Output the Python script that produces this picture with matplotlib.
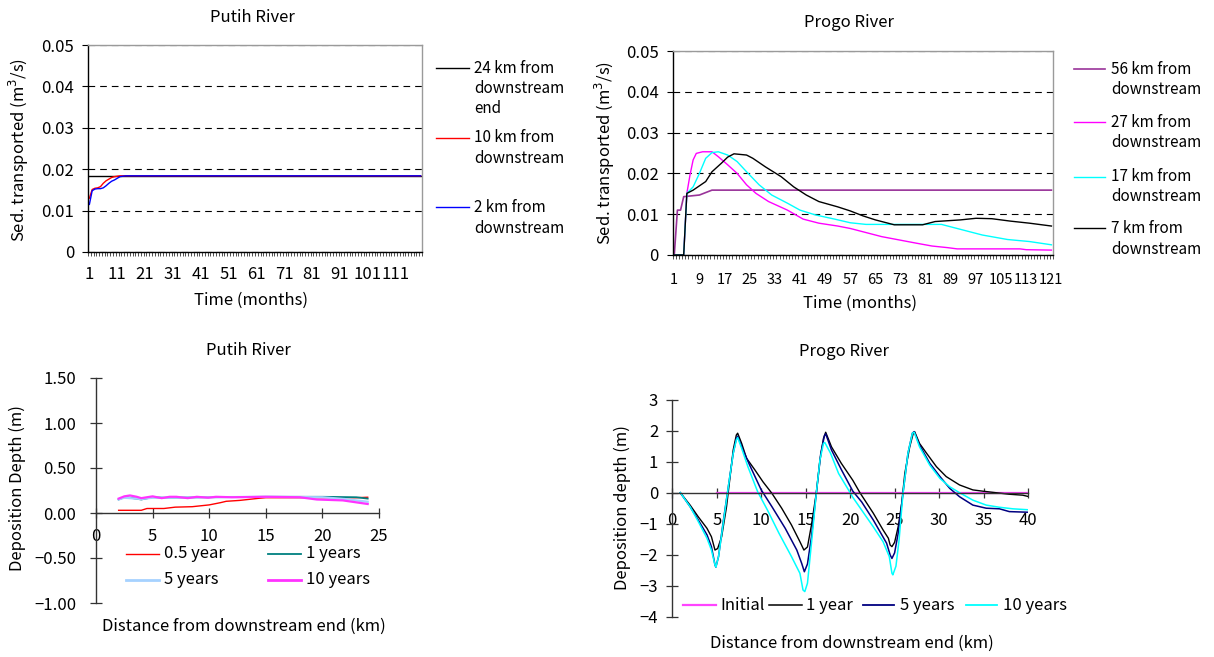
import matplotlib
matplotlib.use('Agg')
import matplotlib.pyplot as plt
from matplotlib.lines import Line2D

plt.rcParams['font.family'] = ['Noto Sans CJK JP', 'DejaVu Sans']
plt.rcParams['axes.unicode_minus'] = True
FS = 12
FS_LEG_TOP = 11

# ---------------- data ----------------
# Putih River, sediment transported (m3/s) vs month
putih_t_24 = [1, 120]
putih_q_24 = [0.0184, 0.0184]
putih_t_10 = [1, 2, 3, 4, 5, 6, 7, 8, 9, 10, 11, 12, 120]
putih_q_10 = [0.0130, 0.0151, 0.0154, 0.0155, 0.0158, 0.0166, 0.0172, 0.0176,
              0.0180, 0.0182, 0.0183, 0.0184, 0.0184]
putih_t_2 = [1, 2, 3, 4, 5, 6, 7, 8, 9, 10, 11, 12, 13, 14, 120]
putih_q_2 = [0.0115, 0.0148, 0.0152, 0.0153, 0.0153, 0.0155, 0.0160, 0.0166,
             0.0171, 0.0174, 0.0178, 0.0182, 0.0183, 0.0184, 0.0184]
putih_month_labels = ['1', '11', '21', '31', '41', '51', '61', '71', '81', '91', '101', '111']

# Progo River, sediment transported (m3/s) vs month
progo_t_56 = [1, 2, 3, 4, 9, 13, 121]
progo_q_56 = [0, 0.0110, 0.0110, 0.0143, 0.0147, 0.0159, 0.0159]
progo_t_27 = [1, 4, 5, 6, 7, 8, 10, 13, 15, 18, 21, 24, 27, 31, 37, 42, 47, 53, 57,
              67, 78, 83, 88, 91, 111, 113, 121]
progo_q_27 = [0, 0, 0.0151, 0.0196, 0.0233, 0.0249, 0.0253, 0.0253, 0.0241, 0.0221,
              0.0200, 0.0172, 0.0151, 0.0131, 0.0110, 0.0088, 0.0078, 0.0071, 0.0065,
              0.0045, 0.0029, 0.0022, 0.0018, 0.0015, 0.0015, 0.0013, 0.0012]
progo_t_17 = [1, 4, 5, 7, 9, 11, 13, 15, 18, 21, 24, 28, 32, 37, 41, 46, 52, 57, 62,
              86, 92, 99, 107, 114, 121]
progo_q_17 = [0, 0, 0.0151, 0.0167, 0.0200, 0.0237, 0.0251, 0.0253, 0.0245, 0.0229,
              0.0204, 0.0172, 0.0147, 0.0127, 0.0110, 0.0098, 0.0088, 0.0079, 0.0075,
              0.0075, 0.0063, 0.0049, 0.0038, 0.0033, 0.0025]
progo_t_7 = [1, 4, 5, 7, 11, 13, 16, 18, 20, 24, 26, 30, 35, 39, 43, 47, 53, 57, 61,
             65, 71, 80, 84, 92, 97, 102, 108, 114, 121]
progo_q_7 = [0, 0, 0.0151, 0.0159, 0.0180, 0.0204, 0.0225, 0.0240, 0.0248, 0.0245,
             0.0237, 0.0216, 0.0192, 0.0167, 0.0147, 0.0131, 0.0118, 0.0108, 0.0096,
             0.0086, 0.0074, 0.0074, 0.0082, 0.0086, 0.0090, 0.0089, 0.0083, 0.0078, 0.0071]
progo_month_labels = ['1', '9', '17', '25', '33', '41', '49', '57', '65', '73', '81',
                      '89', '97', '105', '113', '121']

# Putih River, deposition depth (m) vs distance (km)
putih_km_05 = [2, 4, 4.5, 6, 7, 8.5, 10, 11, 11.5, 12.7, 14.5, 15, 23, 24]
putih_d_05 = [0.03, 0.03, 0.05, 0.05, 0.065, 0.07, 0.09, 0.115, 0.13, 0.14, 0.165,
              0.17, 0.17, 0.175]
putih_km_1 = [2, 2.5, 3, 4, 5, 6, 10, 15, 20, 23, 24]
putih_d_1 = [0.15, 0.175, 0.17, 0.15, 0.175, 0.17, 0.175, 0.18, 0.18, 0.175, 0.16]
putih_km_5 = [2, 2.5, 3, 4, 5, 6, 10, 15, 20, 22, 24]
putih_d_5 = [0.15, 0.17, 0.165, 0.155, 0.17, 0.17, 0.175, 0.18, 0.175, 0.155, 0.125]
putih_km_10 = [2, 2.5, 3, 3.6, 4, 5, 5.8, 6.5, 7.1, 8.1, 8.9, 9.9, 10.6, 12, 15, 18,
               19.5, 21.8, 24]
putih_d_10 = [0.16, 0.185, 0.195, 0.18, 0.165, 0.185, 0.165, 0.18, 0.18, 0.165, 0.18,
              0.17, 0.18, 0.175, 0.18, 0.175, 0.15, 0.14, 0.10]

# Progo River, deposition depth (m) vs distance (km)
progo_km_init = [5, 40]
progo_d_init = [0, 0]
progo_km_1 = [0.9, 2.0, 2.9, 3.9, 4.4, 4.8, 5.1, 5.55, 6.1, 6.5, 6.85, 7.2, 7.35, 7.8,
              8.35, 9.3, 10.2, 11.2, 12.3, 13.4, 14.35, 14.8, 15.2, 15.65, 16.2, 16.6,
              17.0, 17.25, 17.9, 19.0, 20.3, 21.1, 22.6, 23.7, 24.3, 24.5, 24.7, 25.0,
              25.4, 25.8, 26.15, 26.7, 27.1, 27.25, 27.8, 28.6, 29.7, 30.8, 32.3, 33.8,
              34.9, 36.4, 37.9, 39.4, 40.0]
progo_d_1 = [0, -0.40, -0.77, -1.15, -1.42, -1.85, -1.80, -1.42, -0.45, 0.52, 1.38,
             1.86, 1.92, 1.59, 1.11, 0.73, 0.35, -0.02, -0.50, -1.04, -1.58, -1.85,
             -1.75, -1.04, 0.0, 1.05, 1.75, 1.95, 1.48, 0.95, 0.40, 0.0, -0.66, -1.20,
             -1.47, -1.69, -1.74, -1.60, -1.10, -0.34, 0.63, 1.48, 1.92, 1.97, 1.59,
             1.27, 0.84, 0.52, 0.25, 0.09, 0.05, 0.0, -0.05, -0.08, -0.12]
progo_km_5 = [0.9, 2.0, 2.9, 3.9, 4.4, 4.8, 4.9, 5.2, 5.7, 6.3, 6.85, 7.2, 7.35, 7.95,
              8.7, 10.0, 11.2, 12.7, 14.0, 14.55, 14.85, 15.2, 15.65, 16.2, 16.7, 17.1,
              17.25, 17.9, 19.0, 20.3, 21.3, 22.6, 24.1, 24.5, 24.7, 25.0, 25.4, 25.95,
              26.5, 27.0, 27.2, 27.8, 28.95, 30.1, 31.2, 32.3, 33.8, 35.3, 36.8, 37.9,
              40.0]
progo_d_5 = [0, -0.45, -0.87, -1.36, -1.74, -2.33, -2.40, -2.06, -0.99, 0.19, 1.27,
             1.75, 1.82, 1.38, 0.89, 0.09, -0.45, -1.15, -1.85, -2.28, -2.55, -2.30,
             -1.42, 0.0, 1.27, 1.83, 1.90, 1.38, 0.75, 0.05, -0.30, -0.88, -1.63,
             -2.01, -2.12, -1.94, -1.31, 0.0, 1.27, 1.92, 1.97, 1.54, 0.95, 0.52, 0.14,
             -0.13, -0.40, -0.50, -0.52, -0.61, -0.63]
progo_km_10 = [0.9, 2.0, 2.9, 3.9, 4.4, 4.8, 4.9, 5.2, 5.7, 6.3, 6.85, 7.2, 7.35, 7.8,
               8.5, 9.6, 10.7, 12.0, 13.4, 14.35, 14.7, 14.9, 15.2, 15.65, 16.2, 16.6,
               17.0, 17.15, 17.8, 18.7, 20.0, 20.3, 22.6, 23.7, 24.4, 24.7, 24.8, 25.15,
               25.5, 25.95, 26.5, 27.0, 27.2, 27.8, 28.95, 30.1, 31.2, 32.3, 33.8, 35.3,
               36.8, 38.3, 40.0]
progo_d_10 = [0, -0.45, -0.92, -1.47, -1.85, -2.33, -2.40, -2.06, -1.04, 0.19, 1.27,
              1.70, 1.78, 1.43, 0.84, 0.03, -0.56, -1.31, -2.06, -2.60, -3.14, -3.19,
              -2.92, -1.63, 0.0, 1.05, 1.59, 1.62, 1.27, 0.62, 0.0, -0.15, -1.10, -1.58,
              -2.06, -2.60, -2.65, -2.37, -1.53, 0.0, 1.27, 1.92, 1.95, 1.48, 0.89,
              0.46, 0.19, 0.0, -0.24, -0.40, -0.47, -0.52, -0.55]

# ---------------- figure ----------------
W, H = 1214, 657
fig = plt.figure(figsize=(W / 100, H / 100), dpi=100)


def add_ax(l, t, r, b):
    return fig.add_axes([l / W, 1 - b / H, (r - l) / W, (b - t) / H])


def ftext(x, y, s, ha='center', rot=0, fs=FS):
    fig.text(x / W, 1 - y / H, s, fontsize=fs, ha=ha, va='center', rotation=rot)


def leg(x0, x1, xt, ys, line, lw, labels, fs=FS):
    fig.add_artist(Line2D([x0 / W, x1 / W], [1 - ys[0] / H] * 2, color=line.get_color(),
                          lw=lw, transform=fig.transFigure))
    for y, s in zip(ys, labels):
        ftext(xt, y, s, ha='left', fs=fs)


# ---- top-left: Putih sediment ----
ax1 = add_ax(88, 45, 422, 252)
l1a, = ax1.plot(putih_t_24, putih_q_24, color='black', lw=1.0)
l1b, = ax1.plot(putih_t_10, putih_q_10, color='#FF0000', lw=1.0)
l1c, = ax1.plot(putih_t_2, putih_q_2, color='#0000FF', lw=1.0)
ax1.set_xlim(0.5, 120.5)
ax1.set_ylim(0, 0.05)
ax1.set_yticks([0, 0.01, 0.02, 0.03, 0.04, 0.05])
ax1.set_yticklabels(['0', '0.01', '0.02', '0.03', '0.04', '0.05'])
ax1.set_xticks(list(range(1, 120, 10)))
ax1.set_xticklabels(putih_month_labels)
ax1.set_xticks([i + 0.5 for i in range(0, 121)], minor=True)

# ---- top-right: Progo sediment ----
ax2 = add_ax(672.7, 51, 1053, 255)
l2a, = ax2.plot(progo_t_56, progo_q_56, color='#993399', lw=1.2)
l2b, = ax2.plot(progo_t_27, progo_q_27, color='#FF00FF', lw=1.0)
l2c, = ax2.plot(progo_t_17, progo_q_17, color='#00FFFF', lw=1.0)
l2d, = ax2.plot(progo_t_7, progo_q_7, color='black', lw=1.0)
ax2.set_xlim(0.5, 121.5)
ax2.set_ylim(0, 0.05)
ax2.set_yticks([0, 0.01, 0.02, 0.03, 0.04, 0.05])
ax2.set_yticklabels(['0', '0.01', '0.02', '0.03', '0.04', '0.05'])
ax2.set_xticks(list(range(1, 122, 8)))
ax2.set_xticklabels(progo_month_labels)
ax2.set_xticks([i + 0.5 for i in range(0, 122)], minor=True)

for ax, xpad, xfs in ((ax1, 10, FS), (ax2, 13, 10.5)):
    for sp in ('left', 'bottom'):
        ax.spines[sp].set_color('black')
        ax.spines[sp].set_linewidth(1.0)
    for sp in ('top', 'right'):
        ax.spines[sp].set_color('#9a9a9a')
        ax.spines[sp].set_linewidth(1.0)
    ax.yaxis.grid(True, color='black', lw=0.8, linestyle=(0, (6, 4.5)))
    ax.set_axisbelow(True)
    ax.tick_params(axis='y', direction='out', length=4, width=0.8, pad=6, labelsize=FS)
    ax.tick_params(axis='x', which='major', length=0, pad=xpad, labelsize=xfs)
    ax.tick_params(axis='x', which='minor', direction='out', length=3, width=0.6,
                   color='#333333')

# ---- bottom-left: Putih deposition ----
ax3 = add_ax(96, 378, 379, 603)
l3a, = ax3.plot(putih_km_05, putih_d_05, color='#FF0000', lw=1.0)
l3b, = ax3.plot(putih_km_1, putih_d_1, color='#008080', lw=1.3)
l3c, = ax3.plot(putih_km_5, putih_d_5, color='#A6D2FF', lw=1.6)
l3d, = ax3.plot(putih_km_10, putih_d_10, color='#FF33FF', lw=1.6)
ax3.set_xlim(0, 25)
ax3.set_ylim(-1, 1.5)
ax3.set_xticks([0, 5, 10, 15, 20, 25])
ax3.set_yticks([-1, -0.5, 0, 0.5, 1, 1.5])
ax3.set_yticklabels(['\u22121.00', '\u22120.50', '0.00', '0.50', '1.00', '1.50'])

# ---- bottom-right: Progo deposition ----
ax4 = add_ax(672.3, 399.7, 1028, 616.7)
l4a, = ax4.plot(progo_km_init, progo_d_init, color='#FF44FF', lw=1.6)
l4b, = ax4.plot(progo_km_1, progo_d_1, color='black', lw=1.0)
l4c, = ax4.plot(progo_km_5, progo_d_5, color='#000080', lw=1.1)
l4d, = ax4.plot(progo_km_10, progo_d_10, color='#00FFFF', lw=1.1)
ax4.set_xlim(0, 40)
ax4.set_ylim(-4, 3)
ax4.set_xticks([0, 5, 10, 15, 20, 25, 30, 35, 40])
ax4.set_yticks([-4, -3, -2, -1, 0, 1, 2, 3])
ax4.set_yticklabels(['\u22124', '\u22123', '\u22122', '\u22121', '0', '1', '2', '3'])

for ax, ypad, xpad in ((ax3, 10, 7), (ax4, 6, 10)):
    ax.spines['top'].set_visible(False)
    ax.spines['right'].set_visible(False)
    ax.spines['bottom'].set_position(('data', 0))
    for sp in ('left', 'bottom'):
        ax.spines[sp].set_color('#333333')
        ax.spines[sp].set_linewidth(1.0)
    ax.tick_params(axis='y', direction='inout', length=8.5, width=0.9, color='#333333',
                   pad=ypad, labelsize=FS)
    ax.tick_params(axis='x', direction='inout', length=7.5, width=0.9, color='#333333',
                   pad=xpad, labelsize=FS)

# ---------------- texts ----------------
ftext(252.6, 17, 'Putih River')
ftext(848.6, 22.7, 'Progo River')
ftext(248.8, 350.7, 'Putih River')
ftext(843.5, 351, 'Progo River')
ftext(251.4, 300, 'Time (months)')
ftext(859.6, 303, 'Time (months)')
ftext(244.2, 626, 'Distance from downstream end (km)')
ftext(851.4, 643.3, 'Distance from downstream end (km)')
ftext(19, 150, 'Sed. transported (m$^3$/s)', rot=90)
ftext(605, 153, 'Sed. transported (m$^3$/s)', rot=90)
ftext(17.2, 488, 'Deposition Depth (m)', rot=90)
ftext(622.7, 508, 'Deposition depth (m)', rot=90)

# ---------------- legends ----------------
leg(436.3, 468.8, 473.8, [68.3, 88.3, 108.3], l1a, 1.0, ['24 km from', 'downstream', 'end'], FS_LEG_TOP)
leg(436.3, 468.8, 473.8, [137.7, 158.3], l1b, 1.0, ['10 km from', 'downstream'], FS_LEG_TOP)
leg(436.3, 468.8, 473.8, [207.3, 228.3], l1c, 1.0, ['2 km from', 'downstream'], FS_LEG_TOP)

leg(1073.8, 1105, 1111, [69.3, 89.3], l2a, 1.2, ['56 km from', 'downstream'], FS_LEG_TOP)
leg(1073.8, 1105, 1111, [122.3, 142.7], l2b, 1.0, ['27 km from', 'downstream'], FS_LEG_TOP)
leg(1073.8, 1105, 1111, [176.7, 196.7], l2c, 1.0, ['17 km from', 'downstream'], FS_LEG_TOP)
leg(1073.8, 1105, 1111, [228.3, 249.3], l2d, 1.0, ['7 km from', 'downstream'], FS_LEG_TOP)

leg(126.3, 158.8, 163.8, [554], l3a, 1.0, ['0.5 year'])
leg(267.9, 301.2, 306.2, [554], l3b, 1.3, ['1 years'])
leg(126.3, 158.8, 163.8, [580], l3c, 2.0, ['5 years'])
leg(267.9, 301.2, 306.2, [580], l3d, 2.0, ['10 years'])

leg(683.4, 716.3, 720.6, [605.3], l4a, 1.6, ['Initial'])
leg(769, 801.6, 806.3, [605.3], l4b, 1.1, ['1 year'])
leg(863, 894.4, 900.3, [605.3], l4c, 1.3, ['5 years'])
leg(966, 997.4, 1003.3, [605.3], l4d, 1.3, ['10 years'])

fig.savefig('out.png', dpi=100, facecolor='white')
